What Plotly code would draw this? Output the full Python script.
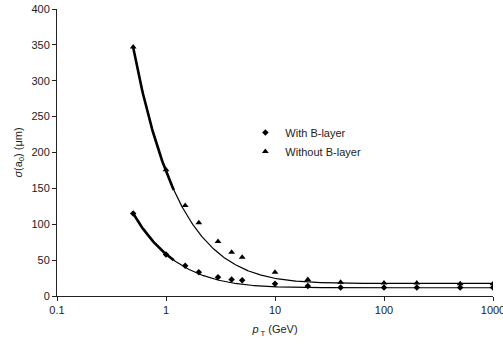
import numpy as np
import plotly.graph_objects as go

# Transverse impact-parameter resolution vs transverse momentum
pt = [0.5, 1, 1.5, 2, 3, 4, 5, 10, 20, 40, 100, 200, 500, 1000]
sigma_with_b = [115, 58, 42, 33, 26, 23, 22, 17, 14, 12, 12, 12, 12, 12]
sigma_without_b = [347, 176, 126, 102, 76, 61, 54, 33, 23, 19, 18, 18, 17, 17]

# Resolution model sigma = sqrt(a^2 + (b/pT)^2): [a (um), b (um GeV)]
fit_with_b = [11.5, 57.2]
fit_without_b = [17.5, 173.0]

x_ticks = [0.1, 1, 10, 100, 1000]
x_tick_text = ["0.1", "1", "10", "100", "1000"]

FONT = "Liberation Sans, Arial, sans-serif"


def model(params, p):
    a, b = params
    return np.sqrt(a ** 2 + (b / p) ** 2)


p_curve = np.logspace(np.log10(pt[0]), np.log10(pt[-1]), 400)
p_low = p_curve[p_curve <= 1.2]

fig = go.Figure()

for params in (fit_with_b, fit_without_b):
    fig.add_trace(go.Scatter(x=p_curve, y=model(params, p_curve), mode="lines",
                             line=dict(color="black", width=1.2),
                             showlegend=False, hoverinfo="skip"))
    fig.add_trace(go.Scatter(x=p_low, y=model(params, p_low), mode="lines",
                             line=dict(color="black", width=2.6),
                             showlegend=False, hoverinfo="skip"))

fig.add_trace(go.Scatter(x=pt, y=sigma_with_b, mode="markers", name="With B-layer",
                         marker=dict(symbol="diamond", size=5, color="black")))
fig.add_trace(go.Scatter(x=pt, y=sigma_without_b, mode="markers", name="Without B-layer",
                         marker=dict(symbol="triangle-up", size=6, color="black")))

axis_common = dict(showline=True, linecolor="#222", linewidth=1, ticks="outside",
                   ticklen=4, tickcolor="#222", showgrid=False, zeroline=False,
                   automargin=False,
                   tickfont=dict(family=FONT, size=11, color="#222"))

fig.update_layout(
    width=503, height=344,
    margin=dict(l=57, r=10, t=9, b=48),
    paper_bgcolor="white", plot_bgcolor="white",
    font=dict(family=FONT, size=11, color="#222"),
    xaxis=dict(type="log", range=[-1, 3], tickvals=x_ticks, ticktext=x_tick_text,
               ticklabeloverflow="allow",
               title=dict(text="<i>p</i><sub> T</sub> (GeV)", standoff=10,
                          font=dict(family=FONT, size=11)),
               **axis_common),
    yaxis=dict(range=[0, 400], dtick=50,
               title=dict(text="<i>σ</i>(a<sub>0</sub>) (μm)", standoff=6,
                          font=dict(family=FONT, size=11)),
               **axis_common),
    legend=dict(x=0.432, y=0.62, xanchor="left", yanchor="top",
                bgcolor="rgba(0,0,0,0)", font=dict(family=FONT, size=11),
                itemwidth=30, tracegroupgap=0),
)

fig.write_html("out.html")
